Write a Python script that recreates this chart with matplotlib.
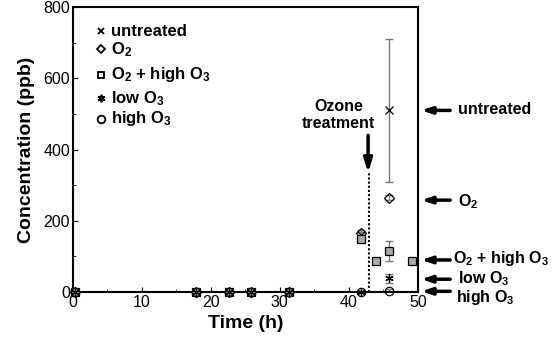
import numpy as np
import matplotlib.pyplot as plt

plt.rcParams['font.family'] = 'Liberation Sans'
plt.rcParams['mathtext.fontset'] = 'custom'
plt.rcParams['mathtext.rm'] = 'Liberation Sans:bold'
plt.rcParams['mathtext.bf'] = 'Liberation Sans:bold'
plt.rcParams['mathtext.default'] = 'bf'

# time points (h)
t_early = [0.3, 17.8, 22.6, 25.9, 31.4]
t_pre = 41.8
t_post = 45.8

# concentrations (ppb)
untreated = [0, 0, 0, 0, 0, 160, 510]
untreated_err = [0, 0, 0, 0, 0, 8, 200]
o2 = [0, 0, 0, 0, 0, 165, 265]
o2_err = [0, 0, 0, 0, 0, 8, 8]
o2_high_t = [44.0, 49.1]
o2_high_extra = [87, 87]
o2_high = [0, 0, 0, 0, 0, 148, 115]
o2_high_err = [0, 0, 0, 0, 0, 8, 28]
low_o3 = [0, 0, 0, 0, 0, 0, 38]
low_o3_err = [0, 0, 0, 0, 0, 2, 14]
high_o3 = [0, 0, 0, 0, 0, 0, 4]
high_o3_err = [0, 0, 0, 0, 0, 1, 4]

ozone_time = 43.0

series = [
    ("untreated", untreated, untreated_err, 'x', 'none'),
    ("O$_2$", o2, o2_err, 'D', 'none'),
    ("O$_2$ + high O$_3$", o2_high, o2_high_err, 's', '#aaaaaa'),
    ("low O$_3$", low_o3, low_o3_err, (6, 2, 0), 'black'),
    ("high O$_3$", high_o3, high_o3_err, 'o', 'none'),
]
sizes = {'x': 5.5, 'D': 5, 's': 5.5, 'o': 6}

fig = plt.figure(figsize=(5.6, 3.38), dpi=100)
ax = fig.add_axes([0.130, 0.136, 0.616, 0.843])

times = t_early + [t_pre, t_post]
for lab, vals, errs, mk, fc in series:
    ms = sizes.get(mk, 6)
    ax.errorbar(times, vals, yerr=errs, fmt='none', ecolor='#777777',
                elinewidth=1, capsize=3, capthick=1, zorder=2)
    ax.plot(times, vals, ls='none', marker=mk, ms=ms, mfc=fc, clip_on=False,
            mec='black', mew=0.9, color='black', zorder=3)
    if mk == 's':
        ax.plot(o2_high_t, o2_high_extra, ls='none', marker=mk, ms=ms,
                mfc=fc, mec='black', mew=0.9, zorder=3)

# ozone treatment marker
ax.plot([ozone_time, ozone_time], [0, 340], ls=(0, (1, 1)), color='black', lw=1.5)
ax.annotate('', xy=(ozone_time - 0.2, 335), xytext=(ozone_time - 0.2, 440),
            arrowprops=dict(arrowstyle='-|>,head_width=0.25,head_length=0.8',
                            color='black', lw=2.5, shrinkA=0, shrinkB=0))
ax.text(38.5, 520, "Ozone", ha='center', va='center', fontsize=11.5, fontweight='bold')
ax.text(38.5, 472, "treatment", ha='center', va='center', fontsize=11.5, fontweight='bold')

# legend drawn by hand
leg_y = [0.915, 0.852, 0.762, 0.680, 0.608]
for (lab, vals, errs, mk, fc), yy in zip(series, leg_y):
    ms = sizes.get(mk, 6) - 0.5
    ax.plot([0.083], [yy], transform=ax.transAxes, ls='none', marker=mk, ms=ms,
            mfc='none' if fc == '#aaaaaa' else fc, mec='black', mew=1.3, clip_on=False)
    ax.text(0.11, yy, lab, transform=ax.transAxes, ha='left', va='center',
            fontsize=12, fontweight='bold')

# labels with arrows on the right
arrow_y = [510, 258, 90, 36, 2]
text_y = [512, 255, 94, 38, -16]
text_x = [55.8, 55.8, 55.1, 55.8, 55.6]
for (lab, vals, errs, mk, fc), ay, ty, tx in zip(series, arrow_y, text_y, text_x):
    ax.annotate('', xy=(50.5, ay), xytext=(54.7, ay), xycoords='data',
                arrowprops=dict(arrowstyle='-|>,head_width=0.2,head_length=0.6',
                                color='black', lw=2.5, shrinkA=0, shrinkB=0),
                annotation_clip=False)
    ax.text(tx, ty, lab, ha='left', va='center', fontsize=11.5,
            fontweight='bold', clip_on=False)

ax.set_xlim(0, 50)
ax.set_ylim(0, 800)
ax.set_xticks([0, 10, 20, 30, 40, 50])
ax.set_xticks(np.arange(5, 50, 10), minor=True)
ax.set_yticks([0, 200, 400, 600, 800])
ax.set_yticks([100, 300, 500, 700], minor=True)
ax.tick_params(direction='in', labelsize=11.5, top=False, right=False, pad=2)
ax.tick_params(which='minor', direction='in', length=2.5)
ax.tick_params(which='major', length=3.5)
for s in ax.spines.values():
    s.set_linewidth(1.5)
ax.set_xlabel("Time (h)", fontsize=14, fontweight='bold', labelpad=4)
ax.set_ylabel("Concentration (ppb)", fontsize=14, fontweight='bold', labelpad=6)

fig.savefig("out.png", dpi=100)
